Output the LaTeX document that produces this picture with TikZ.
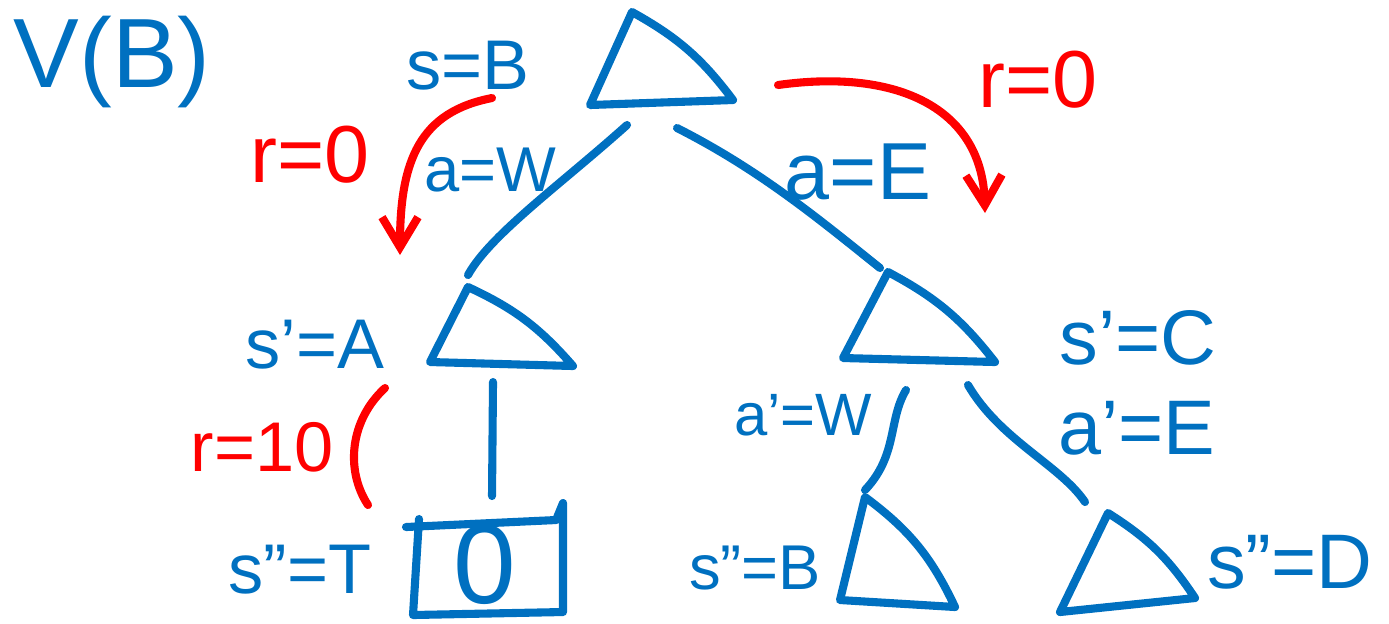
\documentclass[tikz,border=0pt]{standalone}
\usepackage{fontspec}
\setmainfont{Liberation Sans}
\usetikzlibrary{arrows.meta}
\definecolor{penblue}{RGB}{0,112,192}
\definecolor{penred}{RGB}{255,0,0}

\newcommand{\pensize}[1]{\fontsize{#1}{#1}\selectfont}

\begin{document}
\begin{tikzpicture}[x=0.01cm,y=-0.01cm,
    ink/.style={draw=penblue, line width=2.3pt, line cap=round, line join=round},
    redink/.style={ink, draw=penred, -{Straight Barb[length=3mm,width=3.6mm,line width=2.3pt]}},
    lbl/.style={text=penblue, inner sep=0pt, font=\pensize{20pt}},
    rlbl/.style={lbl, text=penred}]
  \useasboundingbox (0,0) rectangle (1389,623);

  % title
  \node[lbl, font=\pensize{28pt}] (title) at (112,62) {V(B)};

  % root state
  \node[lbl] (sB) at (468,66) {s=B};
  \draw[ink] (632,12) -- (590,105) -- (733,100) to[bend right=12] cycle;
  \coordinate (rootW) at (627,125);
  \coordinate (rootE) at (677,128);

  % first level
  \coordinate (sAtop) at (468,275);
  \draw[ink] (468,287) -- (430,362) -- (573,366) to[bend right=12] cycle;
  \node[lbl] (sA) at (315,345) {s'=A};
  \coordinate (sAbot) at (493,382);

  \coordinate (sCtop) at (880,268);
  \draw[ink] (888,272) -- (843,358) -- (995,362) to[bend right=12] cycle;
  \node[lbl, font=\pensize{22pt}] (sC) at (1138,338) {s'=C};
  \coordinate (sCW) at (906,390);
  \coordinate (sCE) at (968,385);

  % actions and rewards
  \node[lbl, font=\pensize{18pt}] (aW) at (490,170) {a=W};
  \node[lbl, font=\pensize{23pt}] (aE) at (858,172) {a=E};
  \draw[ink] (rootW) .. controls (560,185) and (490,235) .. (sAtop);
  \draw[ink] (rootE) .. controls (760,170) and (820,220) .. (sCtop);

  \node[rlbl, font=\pensize{23pt}] (rW) at (310,155) {r=0};
  \node[rlbl, font=\pensize{23pt}] (rE) at (1038,80) {r=0};
  \coordinate (rWfrom) at (492,98);
  \coordinate (rWto) at (400,255);
  \coordinate (rEfrom) at (778,85);
  \coordinate (rEto) at (985,213);
  \draw[redink] (rWfrom) .. controls (420,112) and (400,160) .. (rWto);
  \draw[redink] (rEfrom) .. controls (900,68) and (982,110) .. (rEto);

  % terminal state
  \coordinate (sTtop) at (492,496);
  \draw[ink] (sAbot) -- (sTtop);
  \draw[ink] (406,527) -- (556,520) -- (563,503) -- (563,612) -- (413,615) -- (419,519);
  \node[lbl, font=\pensize{32pt}] (vT) at (485,565) {0};
  \node[lbl] (sT) at (300,570) {s''=T};
  \node[rlbl] (rT) at (262,447) {r=10};
  \draw[ink, draw=penred] (385,388) .. controls (350,420) and (345,470) .. (368,505);

  % second level
  \node[lbl, font=\pensize{17pt}] (aW2) at (803,415) {a'=W};
  \node[lbl, font=\pensize{22pt}] (aE2) at (1137,428) {a'=E};
  \coordinate (sB2top) at (865,490);
  \coordinate (sDtop) at (1085,502);
  \draw[ink] (sCW) .. controls (888,420) and (898,455) .. (sB2top);
  \draw[ink] (sCE) .. controls (1000,440) and (1060,465) .. (sDtop);

  \draw[ink] (865,497) -- (840,600) -- (955,607) to[bend right=14] cycle;
  \node[lbl, font=\pensize{18pt}] (sB2) at (755,568) {s''=B};
  \draw[ink] (1108,513) -- (1060,612) -- (1195,598) to[bend right=12] cycle;
  \node[lbl, font=\pensize{22pt}] (sD) at (1290,562) {s''=D};
\end{tikzpicture}
\end{document}
